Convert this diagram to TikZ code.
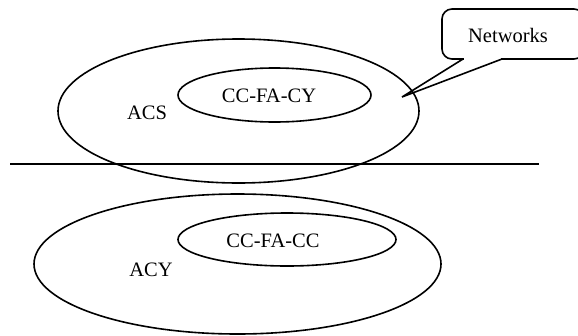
\documentclass[tikz,border=0pt]{standalone}
\usepackage{fontspec}
\setmainfont{Liberation Serif}
\usetikzlibrary{shapes.geometric}
\tikzset{
  outline/.style={draw, line width=1.6pt},
  oval/.style={outline, ellipse, inner sep=0pt},
  lbl/.style={inner sep=0pt, font=\fontsize{20.5}{24}\selectfont},
}
\begin{document}
\begin{tikzpicture}[x=1pt, y=-1pt]
  \useasboundingbox (0,0) rectangle (578,335);

  % upper region
  \node[oval, minimum width=361pt, minimum height=144pt] (acs) at (238.5,111) {};
  \node[oval, minimum width=193pt, minimum height=54pt] (ccfacy) at (274.5,95) {};
  \node[lbl] (acstext) at (147,113) {ACS};
  \node[lbl] (cytext) at (269,96) {CC-FA-CY};

  % separator
  \coordinate (sepL) at (10,164);
  \coordinate (sepR) at (539,164);
  \draw[line width=1.6pt] (sepL) -- (sepR);

  % lower region
  \node[oval, minimum width=407pt, minimum height=140pt] (acy) at (237.5,264) {};
  \node[oval, minimum width=218pt, minimum height=53pt] (ccfacc) at (287,239.5) {};
  \node[lbl] (acytext) at (151,270) {ACY};
  \node[lbl] (cctext) at (273,241) {CC-FA-CC};

  % callout
  \node[outline, rounded corners=10pt, minimum width=142pt, minimum height=50pt] (netbox) at (513,34) {};
  \node[lbl] (net) at (508,35) {Networks};
  \coordinate (tip) at (402,97);
  \coordinate (pa) at (463,59);
  \coordinate (pb) at (502,59);
  \fill[white] (464,57.2) rectangle (501,61);
  \draw[line width=1.6pt, line join=miter] (pa) -- (tip) -- (pb);
\end{tikzpicture}
\end{document}
